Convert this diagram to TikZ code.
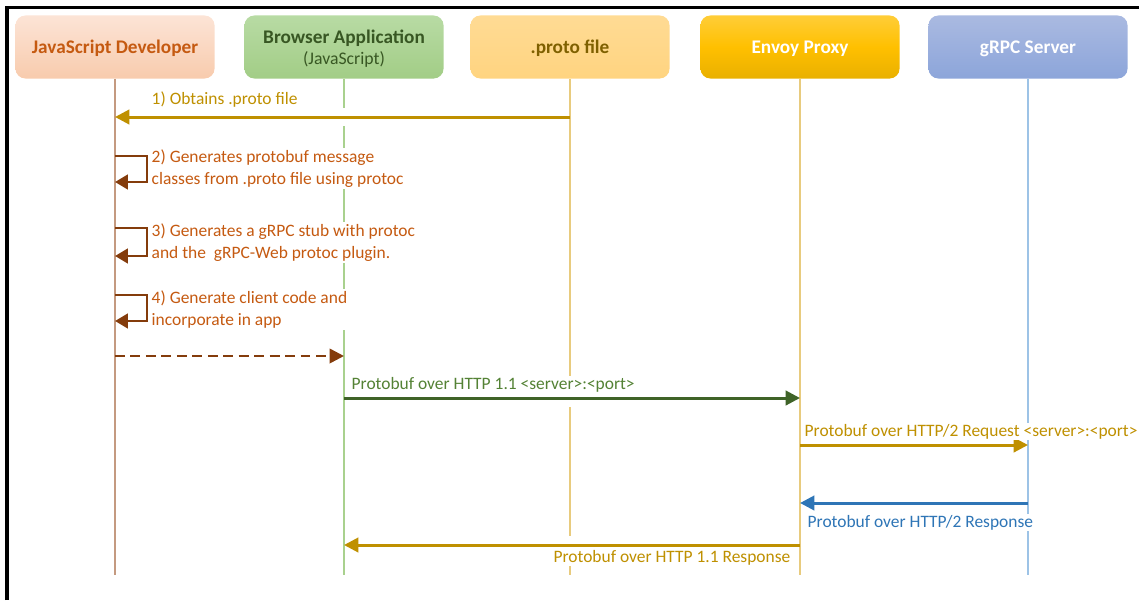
\documentclass[tikz,border=0pt]{standalone}
\usepackage{fontspec}
\setmainfont{Carlito}
\usetikzlibrary{arrows.meta,positioning}

\definecolor{devtop}{HTML}{FCE4D6}
\definecolor{devbot}{HTML}{F8CBAD}
\definecolor{devtext}{HTML}{C55A11}
\definecolor{devline}{HTML}{C49A80}
\definecolor{apptop}{HTML}{B8DBA4}
\definecolor{appbot}{HTML}{A2CD86}
\definecolor{apptext}{HTML}{385723}
\definecolor{appline}{HTML}{A9D18E}
\definecolor{prototop}{HTML}{FFDB94}
\definecolor{protobot}{HTML}{FFD480}
\definecolor{prototext}{HTML}{7F6000}
\definecolor{goldline}{HTML}{E8CB7E}
\definecolor{envoytop}{HTML}{FFCD38}
\definecolor{envoymid}{HTML}{FFC000}
\definecolor{envoybot}{HTML}{E9B000}
\definecolor{grpctop}{HTML}{AABAE1}
\definecolor{grpcbot}{HTML}{8CA5DA}
\definecolor{grpcline}{HTML}{9DC3E6}
\definecolor{gold}{HTML}{BF9000}
\definecolor{darkbrown}{HTML}{843C0C}
\definecolor{darkgreen}{HTML}{3F6328}
\definecolor{labelgreen}{HTML}{548235}
\definecolor{msgblue}{HTML}{2E75B6}

\tikzset{
  actor/.style={rounded corners=7pt, minimum width=4.975cm, minimum height=1.575cm,
    align=center, text depth=0pt, font=\fontsize{13.7}{15}\selectfont\bfseries},
  lifeline/.style={line width=0.8pt},
  halo/.style={draw=white, line width=0.45cm, shorten <=2pt, shorten >=2pt},
  msg/.style={line width=0.075cm, -{Triangle[length=0.36cm,width=0.36cm]}},
  selfmsg/.style={darkbrown, line width=0.07cm, -{Triangle[length=0.32cm,width=0.36cm]}},
  lbl/.style={fill=white, inner sep=1pt, anchor=west, align=left,
    font=\fontsize{12.4}{15.6}\selectfont}
}

\begin{document}
\begin{tikzpicture}[x=0.025cm,y=-0.025cm]
  \useasboundingbox (0,0) rectangle (1139,600);
  \draw[line width=0.075cm] (7,600) -- (7,7) -- (1139,7);

  % actors
  \node[actor, top color=devtop, bottom color=devbot, text=devtext] (dev) at (115,47) {JavaScript Developer};
  \node[actor, top color=apptop, bottom color=appbot, text=apptext] (app) at (344,47)
    {Browser Application\\[0pt]{\fontsize{12.6}{14}\selectfont\mdseries (JavaScript)}};
  \node[actor, top color=prototop, bottom color=protobot, text=prototext] (proto) at (570,47) {.proto file};
  \node[actor, top color=envoytop, bottom color=envoybot, middle color=envoymid, text=white] (envoy) at (800,47) {Envoy Proxy};
  \node[actor, top color=grpctop, bottom color=grpcbot, text=white] (grpc) at (1028,47) {gRPC Server};

  % lifelines
  \coordinate (dev-end) at (115,575);
  \coordinate (app-end) at (344,575);
  \coordinate (proto-end) at (570,575);
  \coordinate (envoy-end) at (800,575);
  \coordinate (grpc-end) at (1028,575);
  \draw[lifeline, devline] (dev.south) -- (dev-end);
  \draw[lifeline, appline] (app.south) -- (app-end);
  \draw[lifeline, goldline] (proto.south) -- (proto-end);
  \draw[lifeline, goldline] (envoy.south) -- (envoy-end);
  \draw[lifeline, grpcline] (grpc.south) -- (grpc-end);

  % message points
  \coordinate (p1) at (570,117);  \coordinate (d1) at (115,117);
  \coordinate (d5) at (115,356);  \coordinate (a5) at (344,356);
  \coordinate (a6) at (344,398);  \coordinate (e6) at (800,398);
  \coordinate (e7) at (800,445);  \coordinate (g7) at (1028,445);
  \coordinate (g8) at (1028,503); \coordinate (e8) at (800,503);
  \coordinate (e9) at (800,545);  \coordinate (a9) at (344,545);

  \path[halo] (p1) -- (d1);
  \path[halo] (a6) -- (e6);
  \path[halo] (e9) -- (a9);

  % 1) obtain
  \draw[msg, gold] (p1) -- (d1);
  \node[lbl, text=gold] (l1) at (150,99.5) {1) Obtains .proto file};

  % self steps
  \coordinate (d2a) at (115,156); \coordinate (d2b) at (115,182);
  \coordinate (d3a) at (115,228); \coordinate (d3b) at (115,256);
  \coordinate (d4a) at (115,295); \coordinate (d4b) at (115,321);
  \draw[selfmsg] (d2a) -- ++(32,0) |- (d2b);
  \draw[selfmsg] (d3a) -- ++(32,0) |- (d3b);
  \draw[selfmsg] (d4a) -- ++(32,0) |- (d4b);
  \node[lbl, text=devtext] (l2) at (150,168.5) {2) Generates protobuf message\\classes from .proto file using protoc};
  \node[lbl, text=devtext] (l3) at (150,242.5) {3) Generates a gRPC stub with protoc\\and the\ \ gRPC-Web protoc plugin.};
  \node[lbl, text=devtext] (l4) at (150,309.5) {4) Generate client code and\\incorporate in app};

  \draw[darkbrown, line width=0.065cm, dash pattern=on 7pt off 4pt,
    -{Triangle[length=0.36cm,width=0.36cm]}] (d5) -- (a5);

  % http traffic
  \draw[msg, darkgreen] (a6) -- (e6);
  \node[lbl, text=labelgreen] (l6) at (350,384.5) {Protobuf over HTTP 1.1 <server>:<port>};
  \draw[msg, gold] (e7) -- (g7);
  \node[lbl, text=gold] (l7) at (803,431.5) {Protobuf over HTTP/2 Request <server>:<port>};
  \draw[msg, msgblue] (g8) -- (e8);
  \node[lbl, text=msgblue] (l8) at (806,522.5) {Protobuf over HTTP/2 Response};
  \draw[msg, gold] (e9) -- (a9);
  \node[lbl, text=gold, anchor=east] (l9) at (792,557.5) {Protobuf over HTTP 1.1 Response};
\end{tikzpicture}
\end{document}
